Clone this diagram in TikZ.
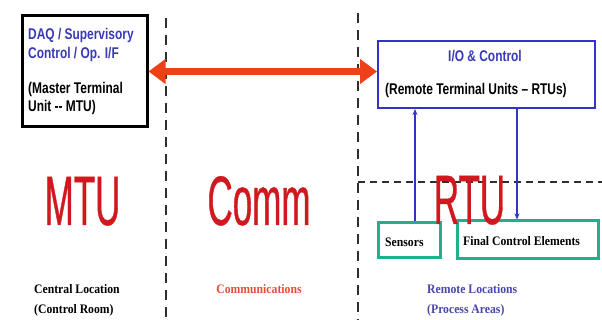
\documentclass[tikz,border=0pt]{standalone}
\usepackage{fontspec}
\usetikzlibrary{arrows.meta,calc}
\setmainfont{Liberation Serif}
\newfontfamily\boxsans[FakeStretch=0.77]{Liberation Sans}
\newfontfamily\bigsans[FakeStretch=0.5,FakeBold=0.5]{Liberation Sans}
\newfontfamily\labserif[FakeStretch=0.9]{Liberation Serif}

\definecolor{txtblue}{HTML}{3A3AB8}
\definecolor{boxblue}{HTML}{3434C4}
\definecolor{bigred}{HTML}{D0191E}
\definecolor{arrred}{HTML}{F0401A}
\definecolor{teal2}{HTML}{22B08C}
\definecolor{commred}{HTML}{E0503A}
\definecolor{locblue}{HTML}{4848A8}
\definecolor{dashgrey}{HTML}{2E2E2E}

\tikzset{
  unitbox/.style={draw, rectangle, inner sep=0pt},
  boxtext/.style={anchor=base west, inner sep=0pt, font=\boxsans\bfseries\fontsize{15.5}{18}\selectfont},
  bigtext/.style={anchor=base, inner sep=0pt, text depth=0pt, text=bigred, font=\bigsans\fontsize{70}{70}\selectfont},
  loctext/.style={anchor=base west, inner sep=0pt, font=\labserif\bfseries\fontsize{13}{15}\selectfont},
  celltext/.style={anchor=base west, inner sep=0pt, font=\labserif\bfseries\fontsize{13}{15}\selectfont},
  divider/.style={draw=dashgrey, line width=2pt, dash pattern=on 10pt off 7pt},
  signal/.style={draw=boxblue, line width=1.1pt, -{Stealth[length=6pt,width=5pt]}},
}

\begin{document}
\begin{tikzpicture}[x=1pt, y=-1pt]
\useasboundingbox (0,0) rectangle (602,320);
\fill[white] (0,0) rectangle (602,320);

% region dividers
\coordinate (d1top) at (166,18);
\coordinate (d1bot) at (166,320);
\coordinate (d2top) at (358,13);
\coordinate (d2bot) at (358,320);
\coordinate (hleft) at (358,182);
\coordinate (hright) at (602,182);
\draw[divider] (d1top) -- (d1bot);
\draw[divider] (d2top) -- (d2bot);
\draw[draw=dashgrey, line width=2pt, dash pattern=on 7pt off 5pt] (hleft) -- (hright);

% master terminal unit box
\node[unitbox, line width=3pt, minimum width=125pt, minimum height=111pt] (mtu) at (84.5,71.5) {};
\node[boxtext, text=txtblue] (mtu1) at (28,40) {DAQ / Supervisory};
\node[boxtext, text=txtblue] (mtu2) at (28,58.5) {Control / Op. I/F};
\node[boxtext] (mtu3) at (28,94) {(Master Terminal};
\node[boxtext] (mtu4) at (28,112) {Unit -- MTU)};

% remote terminal unit box
\node[unitbox, draw=boxblue, line width=2pt, minimum width=217pt, minimum height=67pt] (rtu) at (486.5,74.5) {};
\node[boxtext, anchor=base, text=txtblue] (rtu1) at (485,62) {I/O \& Control};
\node[boxtext] (rtu2) at (385,95) {(Remote Terminal Units – RTUs)};

% field devices
\node[unitbox, draw=teal2, line width=3pt, minimum width=62pt, minimum height=35pt] (sens) at (409,240.5) {};
\node[celltext] (senst) at (385,247) {Sensors};
\node[unitbox, draw=teal2, line width=3pt, minimum width=141pt, minimum height=38pt] (fce) at (527.5,240) {};
\node[celltext] (fcet) at (463,245.5) {Final Control Elements};

% communication link
\draw[draw=arrred, line width=7pt, {Triangle[length=17pt,width=24pt]}-{Triangle[length=17pt,width=24pt]}]
  (mtu.east) -- (mtu.east -| rtu.west);

% signal paths
\draw[signal] ([xshift=6pt]sens.north) -- ([xshift=6pt]sens.north |- rtu.south);
\draw[signal] ([xshift=-10.5pt]fce.north |- rtu.south) -- ([xshift=-10.5pt]fce.north);

% region titles
\node[bigtext] (tmtu) at (82.5,225) {MTU};
\node[bigtext] (tcomm) at (259,225) {Comm};
\node[bigtext] (trtu) at (469.5,224) {RTU};

% location labels
\node[loctext] (loc1) at (34,293) {Central Location};
\node[loctext] (loc2) at (34,313) {(Control Room)};
\node[loctext, anchor=base, text=commred] (loc3) at (259,293) {Communications};
\node[loctext, text=locblue] (loc4) at (427,293) {Remote Locations};
\node[loctext, text=locblue] (loc5) at (427,313) {(Process Areas)};
\end{tikzpicture}
\end{document}
